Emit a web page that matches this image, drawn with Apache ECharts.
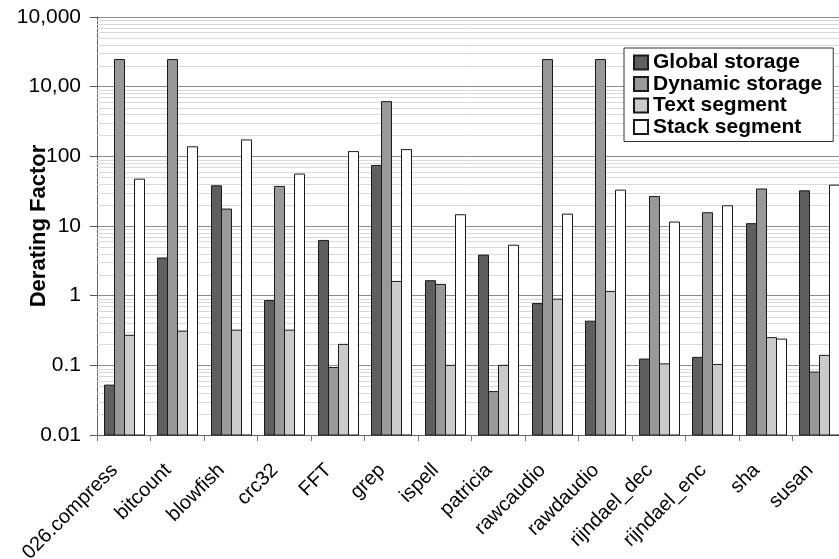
<!DOCTYPE html>
<html>
<head>
<meta charset="utf-8">
<title>Derating Factor</title>
<script src="https://cdn.jsdelivr.net/npm/echarts@6/dist/echarts.min.js"></script>
<style>
  html, body { margin: 0; padding: 0; background: #fff; }
  #chart { width: 839px; height: 559px; }
</style>
</head>
<body>
<div id="chart"></div>
<script>
// benchmarks on the x axis
const categories = ['026.compress', 'bitcount', 'blowfish', 'crc32', 'FFT', 'grep', 'ispell',
  'patricia', 'rawcaudio', 'rawdaudio', 'rijndael_dec', 'rijndael_enc', 'sha', 'susan']

// derating factor per segment
const globalStorage = [0.052, 3.47, 37.8, 0.85, 6.2, 74, 1.64, 3.82, 0.77, 0.43, 0.123, 0.13, 10.8, 32]
const dynamicStorage = [2450, 2450, 17.5, 37, 0.093, 610, 1.45, 0.042, 2450, 2450, 26.5, 15.5, 34, 0.08]
const textSegment = [0.27, 0.31, 0.32, 0.32, 0.2, 1.6, 0.1, 0.1, 0.89, 1.15, 0.105, 0.103, 0.25, 0.139]
const stackSegment = [47, 137, 172, 55.6, 117, 125, 14.5, 5.3, 14.8, 32.7, 11.4, 19.5, 0.238, 38.6]

const yTickLabels = ['0.01', '0.1', '1', '10', '100', '10,00', '10,000']
const yMin = 0.01
const yMax = 10000

const fontFamily = '"Liberation Sans", Arial, Helvetica, sans-serif'

// light grid lines at 2..9 inside each decade
const minorValues = []
for (let p = -2; p < 4; p++) {
  for (let k = 2; k < 10; k++) {
    minorValues.push(k * Math.pow(10, p))
  }
}

// bars on a log axis have to start at the bottom of the axis, not at 1,
// so they are drawn as custom rects from yMin up to the value
function barSeries(name, data, color, slot) {
  return {
    name: name,
    type: 'custom',
    z: 3,
    itemStyle: {
      color: color,
      borderColor: '#1a1a1a',
      borderWidth: 1
    },
    encode: { x: 0, y: 1 },
    data: data.map(function(v, i) { return [i, v] }),
    renderItem: function(params, api) {
      const top = api.coord([api.value(0), api.value(1)])
      const base = api.coord([api.value(0), yMin])
      const barW = 10
      const left = Math.round(top[0] - 2 * barW + slot * barW) + 0.5
      return {
        type: 'rect',
        shape: { x: left, y: top[1], width: barW, height: base[1] - top[1] },
        style: api.style()
      }
    }
  }
}

const myChart = echarts.init(document.getElementById('chart'))
const options = {
  animation: false,
  backgroundColor: '#fff',
  textStyle: { fontFamily: fontFamily },
  grid: {
    left: 97,
    right: -7,
    top: 17,
    bottom: 124,
    outerBoundsMode: 'none'
  },
  legend: {
    orient: 'vertical',
    left: 624,
    top: 48,
    z: 10,
    backgroundColor: '#fff',
    borderColor: '#333',
    borderWidth: 1,
    padding: [4, 11, 4, 9],
    itemWidth: 14,
    itemHeight: 14,
    itemGap: 0.5,
    icon: 'rect',
    data: ['Global storage', 'Dynamic storage', 'Text segment', 'Stack segment'],
    textStyle: {
      color: '#000',
      fontSize: 21,
      fontWeight: 'bold',
      fontFamily: fontFamily
    }
  },
  xAxis: {
    type: 'category',
    data: categories,
    axisLine: { lineStyle: { color: '#666', width: 1 } },
    axisTick: { show: true, length: 6, lineStyle: { color: '#777' } },
    axisLabel: {
      rotate: 45,
      margin: 23,
      interval: 0,
      padding: [0, 13, 7, 0],
      color: '#000',
      fontSize: 20,
      fontFamily: fontFamily
    }
  },
  yAxis: {
    type: 'log',
    logBase: 10,
    min: yMin,
    max: yMax,
    interval: 1,
    name: 'Derating Factor',
    nameLocation: 'middle',
    nameGap: 47,
    nameMoveOverlap: false,
    nameTextStyle: {
      color: '#000',
      fontSize: 22,
      fontWeight: 'bold',
      fontFamily: fontFamily
    },
    axisLine: { show: true, lineStyle: { color: '#666', width: 1 } },
    axisTick: { show: true, length: 7, lineStyle: { color: '#555' } },
    axisLabel: {
      margin: 16,
      color: '#000',
      fontSize: 21,
      fontFamily: fontFamily,
      formatter: function(value) {
        const i = Math.round(Math.log10(value)) + 2
        return yTickLabels[i] || ''
      }
    },
    splitLine: { show: true, lineStyle: { color: '#8c8c8c', width: 1 } }
  },
  series: [
    {
      name: 'minor grid',
      type: 'custom',
      z: 1,
      silent: true,
      encode: { y: 0 },
      data: minorValues.map(function(v) { return [v] }),
      renderItem: function(params, api) {
        const p = api.coord([0, api.value(0)])
        const y = Math.round(p[1]) + 0.5
        return {
          type: 'line',
          shape: { x1: params.coordSys.x, y1: y, x2: params.coordSys.x + params.coordSys.width, y2: y },
          style: { stroke: '#d9d9d9', lineWidth: 1 }
        }
      }
    },
    barSeries('Global storage', globalStorage, '#5f5f5f', 0),
    barSeries('Dynamic storage', dynamicStorage, '#999999', 1),
    barSeries('Text segment', textSegment, '#cbcbcb', 2),
    barSeries('Stack segment', stackSegment, '#ffffff', 3)
  ]
}
myChart.setOption(options)
window.addEventListener('resize', function() {
  myChart.resize()
})
</script>
</body>
</html>
